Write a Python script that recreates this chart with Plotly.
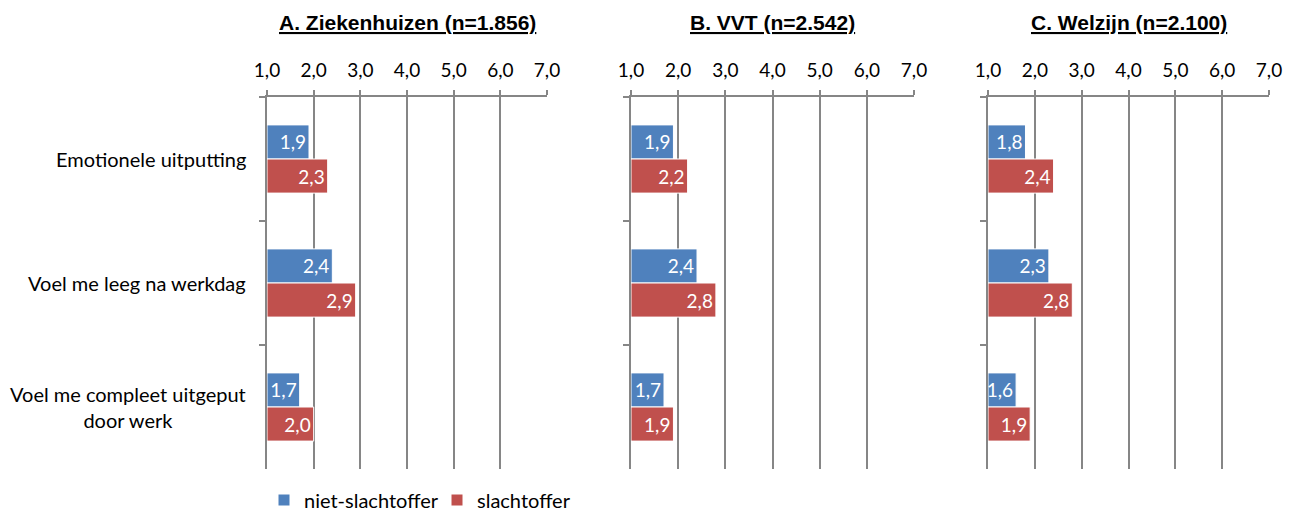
import plotly.graph_objects as go

categories = ["Emotionele uitputting", "Voel me leeg na werkdag",
              "Voel me compleet uitgeput<br>door werk"]
panel_titles = ["A. Ziekenhuizen (n=1.856)", "B. VVT (n=2.542)", "C. Welzijn (n=2.100)"]
series_names = ["niet-slachtoffer", "slachtoffer"]

niet_slachtoffer = [
    [1.9, 2.4, 1.7],
    [1.9, 2.4, 1.7],
    [1.8, 2.3, 1.6],
]
slachtoffer = [
    [2.3, 2.9, 2.0],
    [2.2, 2.8, 1.9],
    [2.4, 2.8, 1.9],
]
x_ticks = [1, 2, 3, 4, 5, 6, 7]

BLUE = "#4F81BD"
RED = "#C0504D"
GRID = "#868686"
FONT = "Lato"
OFF = 8  # page body margin
W, H = 1293 - OFF, 512 - OFF


def px_x(p):
    return (p - OFF) / W


def px_y(p):
    return 1 - (p - OFF) / H


# panel pixel extents on the page (x=1 .. x=7)
panel_px = [(267, 547), (631, 914), (988, 1269)]
y_top, y_bot = 97, 469

fig = go.Figure()

for i, (x0, x1) in enumerate(panel_px):
    sfx = "" if i == 0 else str(i + 1)
    for name, vals, color in [(series_names[0], niet_slachtoffer[i], BLUE),
                              (series_names[1], slachtoffer[i], RED)]:
        fig.add_trace(go.Bar(
            y=categories, x=[v - 1 for v in vals], base=1,
            orientation="h", name=name,
            marker=dict(color=color, line=dict(color="white", width=1)),
            text=[f"{v:.1f}".replace(".", ",") for v in vals],
            textposition="inside", insidetextanchor="end", textangle=0,
            textfont=dict(color="white", size=19, family=FONT),
            cliponaxis=False, constraintext="none",
            showlegend=(i == 0),
            xaxis="x" + sfx, yaxis="y" + sfx,
            hoverinfo="skip",
        ))
    dom = [px_x(x0), px_x(x1)]
    fig.layout["xaxis" + sfx] = dict(
        domain=dom, range=[1, 7], side="top", anchor="y" + sfx,
        tickvals=x_ticks, tickformat=".1f",
        showgrid=True, gridcolor=GRID, gridwidth=2,
        showline=True, linecolor=GRID, linewidth=2,
        ticks="outside", ticklen=5, tickcolor=GRID, tickwidth=2,
        ticklabelstandoff=5, automargin=False,
        tickfont=dict(size=19, color="black", family=FONT),
        zeroline=False, fixedrange=True,
    )
    fig.layout["yaxis" + sfx] = dict(
        domain=[px_y(y_bot), px_y(y_top)], anchor="x" + sfx,
        autorange="reversed", type="category",
        showline=True, linecolor=GRID, linewidth=2,
        ticks="outside", tickson="boundaries", ticklen=6,
        tickcolor=GRID, tickwidth=2, automargin=False,
        showticklabels=False, showgrid=False, fixedrange=True,
    )
    fig.add_annotation(
        text=f"<b><u>{panel_titles[i]}</u></b>",
        x=(dom[0] + dom[1]) / 2, y=px_y(22), xref="paper", yref="paper",
        xanchor="center", yanchor="middle", showarrow=False,
        font=dict(size=21, color="black", family="Liberation Sans"),
    )

# category labels left of panel A, centred multi-line
for cat in categories:
    fig.add_annotation(
        text=cat, x=px_x(248), xref="paper", y=cat, yref="y",
        xanchor="right", yanchor="middle", align="center", showarrow=False,
        font=dict(size=20, color="black", family=FONT),
    )

fig.update_layout(
    width=W, height=H,
    barmode="group", bargap=0.45, bargroupgap=0,
    separators=",.",
    paper_bgcolor="white", plot_bgcolor="white",
    margin=dict(l=0, r=0, t=0, b=0, autoexpand=False),
    font=dict(family=FONT, size=19, color="black"),
    legend=dict(orientation="h", x=px_x(264), y=px_y(500),
                xanchor="left", yanchor="middle",
                font=dict(size=20, family=FONT, color="black"),
                itemwidth=30, tracegroupgap=0,
                entrywidth=128, entrywidthmode="pixels"),
)

fig.write_html("out.html")
